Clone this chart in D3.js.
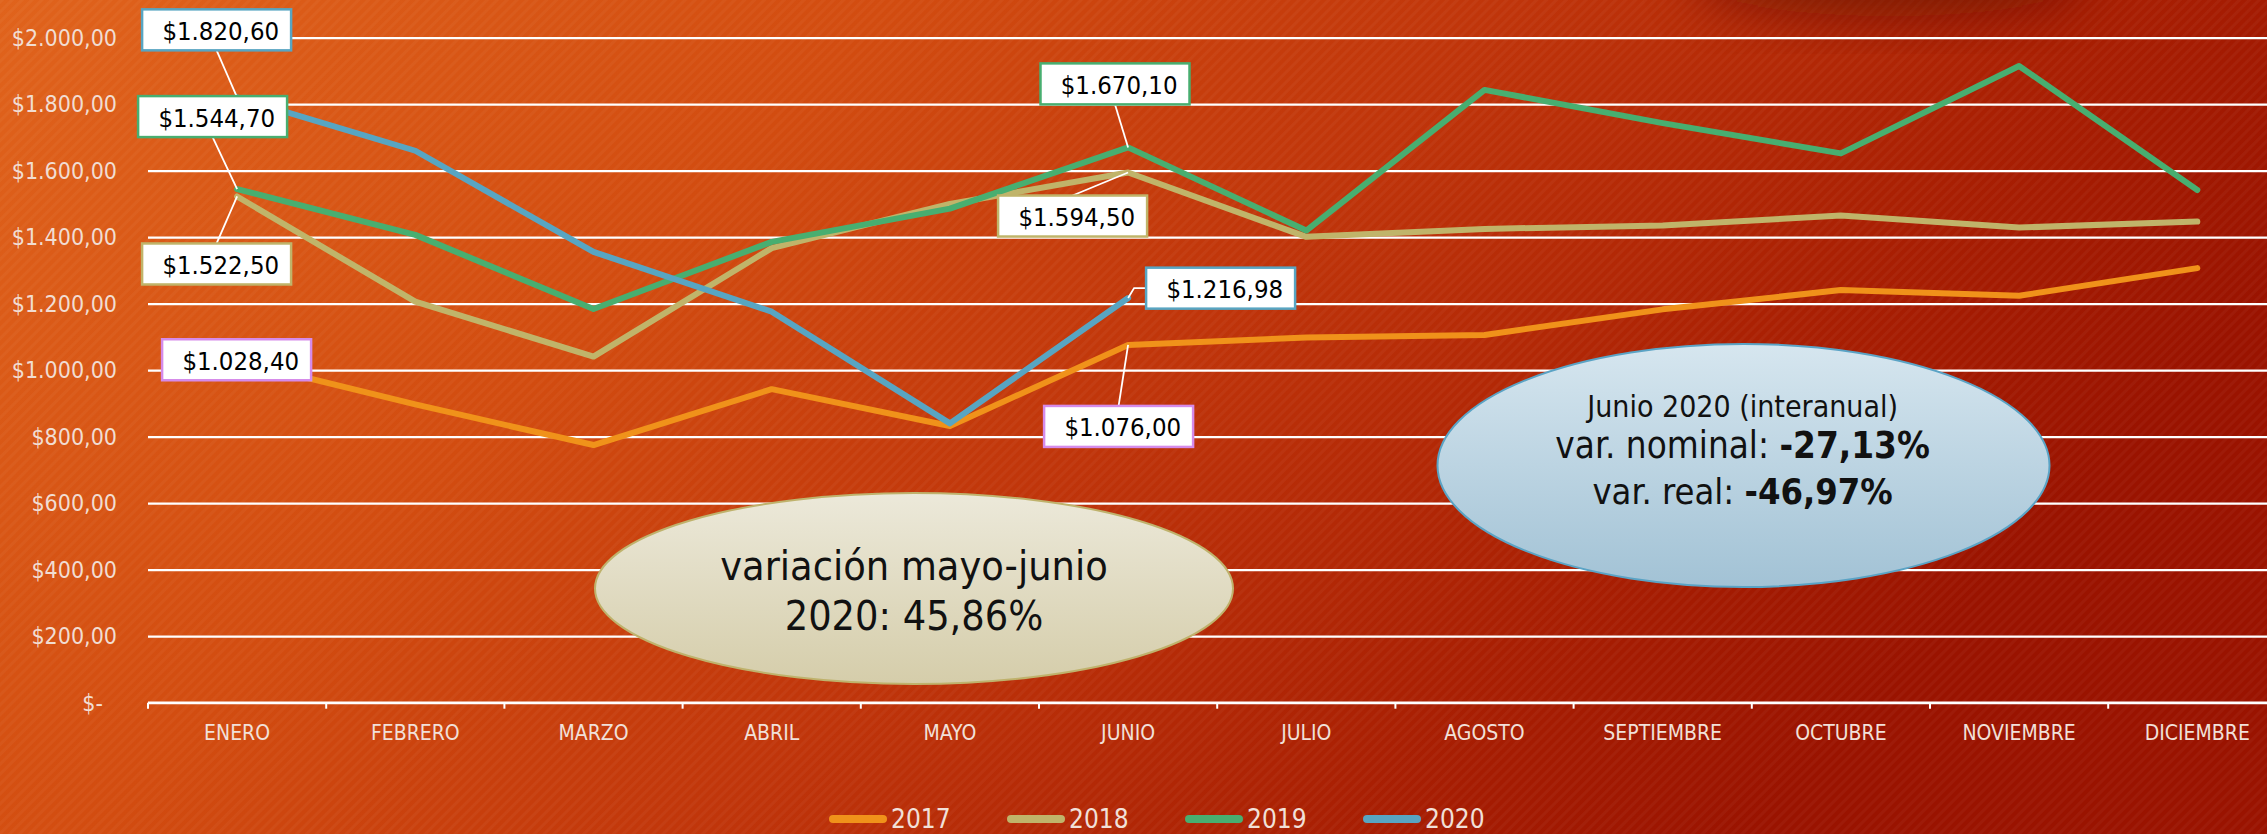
<!DOCTYPE html>
<html>
<head>
<meta charset="utf-8">
<script src="https://cdn.jsdelivr.net/npm/d3@7"></script>
<style>
  html, body { margin: 0; padding: 0; background: #c8400c; }
  svg { display: block; }
</style>
</head>
<body>
<svg id="chart" width="2267" height="834"></svg>
<script>
// ---------------- DATA ----------------
const months = ["ENERO","FEBRERO","MARZO","ABRIL","MAYO","JUNIO","JULIO","AGOSTO","SEPTIEMBRE","OCTUBRE","NOVIEMBRE","DICIEMBRE"];
const years = ["2017","2018","2019","2020"];
const values2017 = [1028.4, 897, 775, 943, 832, 1076.0, 1098, 1106, 1183, 1241, 1224, 1307];
const values2018 = [1522.5, 1206, 1041, 1367, 1500, 1594.5, 1401, 1425, 1435, 1465, 1429, 1447];
const values2019 = [1544.7, 1407, 1184, 1386, 1486, 1670.1, 1420, 1843, 1743, 1652, 1915, 1542];
const values2020 = [1820.6, 1660, 1356, 1176, 840, 1216.98];
const yTicks = [0, 200, 400, 600, 800, 1000, 1200, 1400, 1600, 1800, 2000];
const colors = ["#F0921A", "#C0B46A", "#48AE70", "#58A5C2"];
const labelBorders = ["#D58BEA", "#C0B46A", "#48AE70", "#58A5C2"];
const seriesValues = [values2017, values2018, values2019, values2020];

// data labels: [series index, month index]
const dataLabels = [[3,0],[2,0],[1,0],[0,0],[2,5],[1,5],[3,5],[0,5]];
// label box layout relative to point (dx, dy of box top-left) and leader type
const labelLayout = [
  {dx:-95, dy:-88, leader:"bottom"},
  {dx:-99, dy:-93, leader:"bottom"},
  {dx:-95, dy:47,  leader:"top"},
  {dx:-75, dy:-21.5, leader:"none"},
  {dx:-87.6, dy:-84, leader:"bottom"},
  {dx:-130, dy:23, leader:"top"},
  {dx:18, dy:-30.4, leader:"elbow"},
  {dx:-84, dy:61, leader:"top"}
];

const note1 = ["variación mayo-junio", "2020: 45,86%"];
const note2 = [
  [{t:"Junio 2020 (interanual)", b:false}],
  [{t:"var. nominal: ", b:false}, {t:"-27,13%", b:true}],
  [{t:"var. real: ", b:false}, {t:"-46,97%", b:true}]
];

// ---------------- CHART ----------------
const W = 2267, H = 834;
const svg = d3.select("#chart");
const defs = svg.append("defs");

const bg = defs.append("linearGradient").attr("id","bg")
  .attr("x1","0").attr("y1","0").attr("x2","1").attr("y2","0.35");
[["0","#E0631C"],["0.35","#D24C10"],["0.6","#BF340A"],["0.82","#AA2003"],["1","#9A1300"]]
  .forEach(s => bg.append("stop").attr("offset",s[0]).attr("stop-color",s[1]));

const pat = defs.append("pattern").attr("id","stripes").attr("patternUnits","userSpaceOnUse")
  .attr("width",7).attr("height",7).attr("patternTransform","rotate(45)");
pat.append("rect").attr("width",3).attr("height",7).attr("fill","#ffffff").attr("opacity",0.035);

const blur = defs.append("filter").attr("id","blur").attr("x","-50%").attr("y","-50%").attr("width","200%").attr("height","200%");
blur.append("feGaussianBlur").attr("stdDeviation",26);

const g1 = defs.append("linearGradient").attr("id","ell1").attr("x1","0").attr("y1","0").attr("x2","0").attr("y2","1");
g1.append("stop").attr("offset","0").attr("stop-color","#ECE9DA");
g1.append("stop").attr("offset","1").attr("stop-color","#D5CDAA");
const g2 = defs.append("linearGradient").attr("id","ell2").attr("x1","0").attr("y1","0").attr("x2","0").attr("y2","1");
g2.append("stop").attr("offset","0").attr("stop-color","#D6E6EF");
g2.append("stop").attr("offset","1").attr("stop-color","#A2C2D5");

svg.append("rect").attr("width",W).attr("height",H).attr("fill","url(#bg)");
svg.append("rect").attr("width",W).attr("height",H).attr("fill","url(#stripes)");
svg.append("ellipse").attr("cx",1890).attr("cy",-22).attr("rx",200).attr("ry",38)
  .attr("fill","#5a1000").attr("opacity",0.6).attr("filter","url(#blur)");

const plotLeft = 148, bandStep = 178.2, plotTop = 37.7, plotBottom = 702.7;
const x = d3.scaleBand().domain(months).range([plotLeft, plotLeft + bandStep*months.length]).paddingInner(0).paddingOuter(0);
const y = d3.scaleLinear().domain([0, 2000]).range([plotBottom, plotTop]);
const cx = m => x(m) + x.bandwidth()/2;

const locale = d3.formatLocale({decimal: ",", thousands: ".", grouping: [3], currency: ["$", ""]});
const fmt = locale.format("$,.2f");

const tickFont = "'DejaVu Sans Condensed','DejaVu Sans',sans-serif";
const narrowFont = "'Liberation Sans Narrow','DejaVu Sans Condensed',sans-serif";

// grid + y axis
const yAxis = svg.append("g").attr("transform", `translate(${plotLeft},0)`)
  .call(d3.axisLeft(y).tickValues(yTicks).tickSize(-(W-plotLeft)).tickPadding(31)
    .tickFormat(d => d === 0 ? "$-" : fmt(d)));
yAxis.select(".domain").remove();
yAxis.selectAll(".tick line").attr("stroke","#ffffff").attr("stroke-width",2.2);
yAxis.selectAll(".tick text")
  .attr("fill","#F1DDD2").attr("font-family",tickFont).attr("font-stretch","condensed")
  .attr("font-size",23)
  .attr("dx", d => d === 0 ? -14 : 0);

// x axis
const xAxis = svg.append("g").attr("transform", `translate(0,${plotBottom})`)
  .call(d3.axisBottom(x).tickSize(0).tickPadding(22));
xAxis.select(".domain").attr("stroke","#ffffff").attr("stroke-width",2.5)
  .attr("d", `M${plotLeft},0H${W}`);
xAxis.selectAll(".tick text").attr("fill","#F1E0D9").attr("font-family",narrowFont)
  .attr("font-size",21).attr("font-stretch","condensed");
svg.append("g").selectAll("line").data(months).join("line")
  .attr("x1", m => x(m)).attr("x2", m => x(m))
  .attr("y1", plotBottom).attr("y2", plotBottom+6)
  .attr("stroke","#ffffff").attr("stroke-width",2);

// lines
const line = d3.line().x((d,i) => cx(months[i])).y(d => y(d));
svg.append("g").selectAll("path").data(seriesValues).join("path")
  .attr("d", d => line(d))
  .attr("fill","none")
  .attr("stroke", (d,i) => colors[i])
  .attr("stroke-width", 6)
  .attr("stroke-linejoin","round")
  .attr("stroke-linecap","round");

// data labels
const boxW = 149, boxH = 41;
const lg = svg.append("g");
dataLabels.forEach((lab, k) => {
  const [s, m] = lab;
  const lay = labelLayout[k];
  const px = cx(months[m]), py = y(seriesValues[s][m]);
  const bx = px + lay.dx, by = py + lay.dy;
  if (lay.leader === "bottom") {
    lg.append("line").attr("x1", bx + boxW/2).attr("y1", by + boxH).attr("x2", px).attr("y2", py)
      .attr("stroke","#fff").attr("stroke-width",1.8);
  } else if (lay.leader === "top") {
    lg.append("line").attr("x1", bx + boxW/2).attr("y1", by).attr("x2", px).attr("y2", py)
      .attr("stroke","#fff").attr("stroke-width",1.8);
  } else if (lay.leader === "elbow") {
    lg.append("path").attr("d", `M${px},${py}L${px+6},${by+boxH/2}H${bx}`)
      .attr("fill","none").attr("stroke","#fff").attr("stroke-width",1.8);
  }
  lg.append("rect").attr("x", bx).attr("y", by).attr("width", boxW).attr("height", boxH)
    .attr("fill","#ffffff").attr("stroke", labelBorders[s]).attr("stroke-width",2.5);
  lg.append("text").attr("x", bx + boxW - 12).attr("y", by + 30.5)
    .attr("text-anchor","end").attr("font-family",tickFont).attr("font-stretch","condensed")
    .attr("font-size",25.5).attr("fill","#000")
    .text(fmt(seriesValues[s][m]));
});

// note ellipse 1
const n1 = svg.append("g");
n1.append("ellipse").attr("cx", 914).attr("cy", 588.5).attr("rx", 319).attr("ry", 95.5)
  .attr("fill","url(#ell1)").attr("stroke","#BFB26C").attr("stroke-width",2);
n1.selectAll("text").data(note1).join("text")
  .attr("x", 914).attr("y", (d,i) => 580 + i*50)
  .attr("text-anchor","middle").attr("font-family",tickFont).attr("font-stretch","condensed")
  .attr("font-size",41).attr("fill","#111")
  .text(d => d);

// note ellipse 2
const n2 = svg.append("g");
n2.append("ellipse").attr("cx", 1743.5).attr("cy", 465.5).attr("rx", 306).attr("ry", 121.5)
  .attr("fill","url(#ell2)").attr("stroke","#5AA3C5").attr("stroke-width",2);
const n2y = [416.7, 458, 504], n2s = [30, 36.5, 36];
note2.forEach((parts, i) => {
  const t = n2.append("text").attr("x", 1742.6).attr("y", n2y[i]).attr("text-anchor","middle")
    .attr("font-family",tickFont).attr("font-stretch","condensed").attr("font-size", n2s[i]).attr("fill","#111");
  parts.forEach(p => t.append("tspan").attr("font-weight", p.b ? "bold" : "normal").text(p.t));
});

// legend
const legend = svg.append("g").selectAll("g").data(years).join("g")
  .attr("transform", (d,i) => `translate(${833 + i*178},819)`);
legend.append("line").attr("x1",0).attr("x2",50).attr("y1",0).attr("y2",0)
  .attr("stroke",(d,i)=>colors[i]).attr("stroke-width",8).attr("stroke-linecap","round");
legend.append("text").attr("x",58).attr("y",9).attr("font-family",narrowFont)
  .attr("font-stretch","condensed").attr("font-size",26).attr("fill","#F1E0D9").text(d => d);
</script>
</body>
</html>
